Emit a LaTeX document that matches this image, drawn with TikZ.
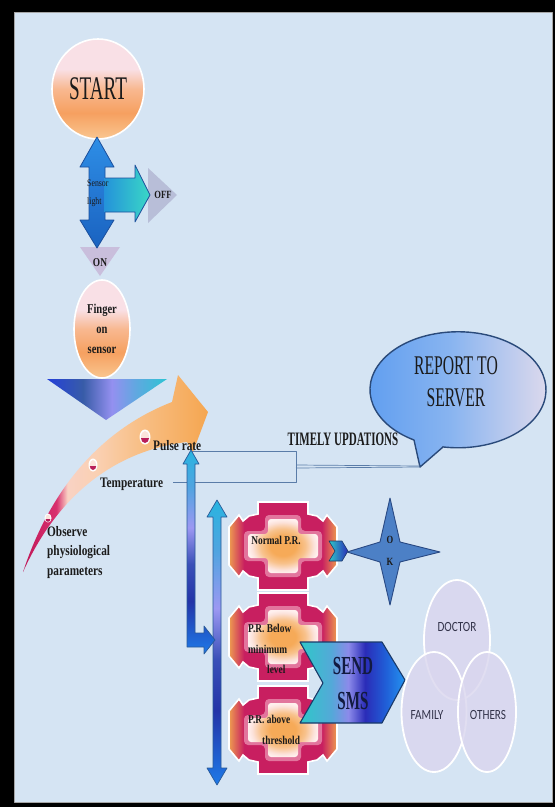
\documentclass[tikz,border=0pt]{standalone}
\usepackage{fontspec}
\setmainfont{Liberation Serif}
\newfontfamily\narrowserif[FakeStretch=0.58]{Liberation Serif}
\newfontfamily\labelserif[FakeStretch=0.78]{Liberation Serif}
\newfontfamily\narrowsans[FakeStretch=0.8]{Carlito}
\usetikzlibrary{shapes.geometric,calc}

% palette
\definecolor{paper}{RGB}{213,228,243}
\definecolor{ink}{HTML}{1B1B1B}
\definecolor{navyink}{HTML}{121A40}
\definecolor{wirec}{HTML}{5A7CA8}
\definecolor{stTop}{HTML}{F9E0E6}
\definecolor{stMid}{HTML}{F8B890}
\definecolor{stOr}{HTML}{F6A060}
\definecolor{stBot}{HTML}{F9C690}
\definecolor{sbTop}{HTML}{2E8EE6}
\definecolor{sbBot}{HTML}{1A62C0}
\definecolor{sedge}{HTML}{1C4F9C}
\definecolor{tlA}{HTML}{2492DA}
\definecolor{tlB}{HTML}{3AD8C6}
\definecolor{offgrey}{HTML}{B8BED8}
\definecolor{onlav}{HTML}{C9BEDC}
\definecolor{ftA}{HTML}{2440D8}
\definecolor{ftB}{HTML}{385CA8}
\definecolor{ftC}{HTML}{9490F0}
\definecolor{ftD}{HTML}{60A8E0}
\definecolor{ftE}{HTML}{2CC4D4}
\definecolor{bdA}{HTML}{C01858}
\definecolor{bdB}{HTML}{D8306E}
\definecolor{bdC}{HTML}{F9D2C4}
\definecolor{bdD}{HTML}{FAD0B2}
\definecolor{bdE}{HTML}{F8C088}
\definecolor{bdF}{HTML}{F5A650}
\definecolor{markmag}{HTML}{B81E5A}
\definecolor{markpale}{HTML}{FBE4DC}
\definecolor{bbA}{HTML}{1E7AE8}
\definecolor{bbB}{HTML}{2434A8}
\definecolor{bbC}{HTML}{3A50B8}
\definecolor{bbD}{HTML}{9C98F2}
\definecolor{bbE}{HTML}{50A4E0}
\definecolor{bbF}{HTML}{28B4E0}
\definecolor{baredge}{HTML}{2A5A98}
\definecolor{clA}{HTML}{5C9CF0}
\definecolor{clB}{HTML}{88B4F0}
\definecolor{clC}{HTML}{E6DDEC}
\definecolor{cledge}{HTML}{2A4A7A}
\definecolor{gOr}{HTML}{EE9C50}
\definecolor{gMag}{HTML}{C81F60}
\definecolor{gCore}{HTML}{F6AA58}
\definecolor{gPeach}{HTML}{F8C28C}
\definecolor{gPale}{HTML}{FCE2DA}
\definecolor{gWhite}{HTML}{FFF0EE}
\definecolor{gPink}{HTML}{EE9AB8}
\definecolor{smA}{HTML}{2EC8C8}
\definecolor{smB}{HTML}{54A8D8}
\definecolor{smC}{HTML}{8C8AEA}
\definecolor{smD}{HTML}{2A2CB8}
\definecolor{smE}{HTML}{2060D8}
\definecolor{smF}{HTML}{2494F0}
\definecolor{smedge}{HTML}{1A3A6A}
\definecolor{starfill}{HTML}{4C80C6}
\definecolor{staredge}{HTML}{2A4A84}
\definecolor{venn}{HTML}{DAD6EE}
\definecolor{venntext}{HTML}{33334A}

% gradients
\pgfdeclareverticalshading{startfill}{100bp}{color(0bp)=(stBot); color(25bp)=(stBot); color(38bp)=(stOr); color(50bp)=(stMid); color(60bp)=(stTop); color(100bp)=(stTop)}
\pgfdeclareverticalshading{sensorblue}{100bp}{color(0bp)=(sbBot); color(25bp)=(sbBot); color(75bp)=(sbTop); color(100bp)=(sbTop)}
\pgfdeclarehorizontalshading{offteal}{100bp}{color(0bp)=(tlA); color(25bp)=(tlA); color(75bp)=(tlB); color(100bp)=(tlB)}
\pgfdeclarehorizontalshading{fingertri}{100bp}{color(0bp)=(ftA); color(25bp)=(ftA); color(40bp)=(ftB); color(52bp)=(ftC); color(62bp)=(ftD); color(75bp)=(ftE); color(100bp)=(ftE)}
\pgfdeclarehorizontalshading{bandfill}{100bp}{color(0bp)=(bdA); color(25bp)=(bdA); color(34bp)=(bdB); color(37bp)=(bdC); color(45bp)=(bdD); color(56bp)=(bdE); color(75bp)=(bdF); color(100bp)=(bdF)}
\pgfdeclareverticalshading{bluebar}{100bp}{color(0bp)=(bbA); color(25bp)=(bbA); color(38bp)=(bbB); color(47bp)=(bbC); color(56bp)=(bbD); color(66bp)=(bbE); color(75bp)=(bbF); color(100bp)=(bbF)}
\pgfdeclarehorizontalshading{callshade}{100bp}{color(0bp)=(clA); color(25bp)=(clA); color(48bp)=(clB); color(75bp)=(clC); color(100bp)=(clC)}
\pgfdeclarehorizontalshading{gearring}{100bp}{color(0bp)=(gOr); color(25bp)=(gOr); color(32bp)=(gMag); color(68bp)=(gMag); color(75bp)=(gOr); color(100bp)=(gOr)}
\pgfdeclareradialshading{gearcore}{\pgfpointorigin}{color(0bp)=(gCore); color(9bp)=(gCore); color(16bp)=(gPeach); color(22bp)=(gPale); color(25bp)=(gWhite); color(50bp)=(gWhite)}
\pgfdeclarehorizontalshading{smsshade}{100bp}{color(0bp)=(smA); color(25bp)=(smA); color(40bp)=(smB); color(48bp)=(smC); color(56bp)=(smD); color(66bp)=(smE); color(75bp)=(smF); color(100bp)=(smF)}
\pgfdeclarehorizontalshading{chevshade}{100bp}{color(0bp)=(smA); color(25bp)=(smA); color(75bp)=(smD); color(100bp)=(smD)}

\tikzset{
  lbl/.style={inner sep=0pt, text=ink},
  boldlabel/.style={lbl, font=\labelserif\bfseries\fontsize{#1}{20}\selectfont},
  gearlabel/.style={lbl, font=\labelserif\bfseries\fontsize{12}{20.5}\selectfont},
  vennlabel/.style={inner sep=0pt, text=venntext, font=\narrowsans\fontsize{14}{16}\selectfont},
  wire/.style={draw=wirec, line width=0.7},
  barrow/.style={shade, shading=bluebar, draw=baredge, line width=0.7},
  oval/.style={ellipse, inner sep=0pt, shade, shading=startfill, draw=white, line width=1.6},
  vennoval/.style={ellipse, inner sep=0pt, fill=venn, fill opacity=0.8, draw=white, line width=1.8}
}

% one gear badge centred at the given point
\newcommand\gearbadge[2]{%
  \begin{scope}[shift={(#1,#2)}]
    \path[shade, shading=gearring]
      (-25,-44) -- (25,-44) -- (25,-32) -- (34,-30) -- (40,-25) -- (44,-31) -- (54,-19) -- (54,19) -- (44,31) -- (40,25) -- (34,30) -- (25,32)
      -- (25,44) -- (-25,44) -- (-25,32) -- (-34,30) -- (-40,25) -- (-44,31) -- (-54,19) -- (-54,-19) -- (-44,-31) -- (-40,-25) -- (-34,-30) -- (-25,-32) -- cycle;
    \draw[white, line width=1.6, line join=miter]
      (-25,-44) -- (25,-44) -- (25,-32) -- (34,-30) -- (40,-25) -- (44,-31) -- (54,-19) -- (54,19) -- (44,31) -- (40,25) -- (34,30) -- (25,32)
      -- (25,44) -- (-25,44) -- (-25,32) -- (-34,30) -- (-40,25) -- (-44,31) -- (-54,19) -- (-54,-19) -- (-44,-31) -- (-40,-25) -- (-34,-30) -- (-25,-32) -- cycle;
    \fill[gPink, opacity=0.7, rounded corners=4]
      (-18,-31) -- (18,-31) -- (18,-15) -- (39,-15) -- (39,15) -- (18,15) -- (18,31) -- (-18,31)
      -- (-18,15) -- (-39,15) -- (-39,-15) -- (-18,-15) -- cycle;
    \path[shade, shading=gearcore, rounded corners=3]
      (-15,-27) -- (15,-27) -- (15,-12) -- (35,-12) -- (35,12) -- (15,12) -- (15,27) -- (-15,27)
      -- (-15,12) -- (-35,12) -- (-35,-12) -- (-15,-12) -- cycle;
  \end{scope}}

\begin{document}
\begin{tikzpicture}[x=1pt, y=-1pt, line join=round]
\useasboundingbox (0,0) rectangle (555,807);

% frame and paper
\fill[black] (0,0) rectangle (555,807);
\fill[paper] (14,12) rectangle (552,802);
\draw[gray!70, line width=0.6] (14,12) rectangle (552,802);

% ---- start and sensor light switch ----
\node[oval, minimum width=92, minimum height=100,
      font=\narrowserif\fontsize{33}{36}\selectfont, text=ink] (start) at (98,89) {START};

\fill[offgrey] (148,168) -- (177,195) -- (148,223) -- cycle;
\fill[onlav] (80,247) -- (120,247) -- (100,276) -- cycle;

\path[shade, shading=sensorblue, draw=sedge, line width=0.8]
  (97,137) -- (114,167) -- (105,167) -- (105,220) -- (114,220) -- (97,248)
  -- (80,220) -- (89,220) -- (89,167) -- (80,167) -- cycle;
\path[shade, shading=offteal]
  (104,178) -- (135,178) -- (135,165) -- (150,195) -- (135,222) -- (135,212) -- (104,212) -- cycle;
\draw[sedge, line width=0.8]
  (105,178) -- (135,178) -- (135,165) -- (150,195) -- (135,222) -- (135,212) -- (105,212);

\node[lbl, font=\labelserif\fontsize{10}{18}\selectfont, align=left, anchor=west] (sensor) at (87,193) {Sensor\\light};
\node[boldlabel=11] (off) at (163,195) {OFF};
\node[boldlabel=12] (on) at (100,263) {ON};

% ---- finger on sensor ----
\node[oval, minimum width=56, minimum height=98, align=center,
      font=\labelserif\bfseries\fontsize{13.5}{20}\selectfont, text=ink] (finger) at (102,329) {Finger\\on\\sensor};
\path[shade, shading=fingertri] (47,379) -- (167,379) -- (106,420) -- cycle;

% ---- curved arrow of measured parameters ----
\path[shade, shading=bandfill]
  (23,572) .. controls (50,490) and (100,430) .. (172,402) -- (178,375) -- (208,412)
  -- (193,452) -- (187,442) .. controls (120,450) and (60,490) .. (23,572) -- cycle;

% small dial markers on the band
\fill[white] (145,437) ellipse[x radius=5.5, y radius=7.5];
\fill[markpale] (145,437) ellipse[x radius=4, y radius=6];
\fill[markmag] (141,438) arc[start angle=180, end angle=0, x radius=4, y radius=5] -- cycle;
\fill[white] (93,465) ellipse[x radius=4.5, y radius=6.5];
\fill[markpale] (93,465) ellipse[x radius=3.2, y radius=5];
\fill[markmag] (89.8,466) arc[start angle=180, end angle=0, x radius=3.2, y radius=4] -- cycle;
\fill[white] (48,518) ellipse[x radius=3.5, y radius=4.5];
\fill[markpale] (48,518) ellipse[x radius=2.4, y radius=3.4];
\fill[markmag] (45.6,519) arc[start angle=180, end angle=0, x radius=2.4, y radius=2.8] -- cycle;

\node[boldlabel=14.5, anchor=base west] (pulse) at (153,450) {Pulse rate};
\node[boldlabel=14.5, anchor=base west] (temp) at (100,487) {Temperature};
\node[lbl, font=\labelserif\bfseries\fontsize{14.5}{19.5}\selectfont, align=left, anchor=north west] (observe) at (47,526) {Observe\\physiological\\parameters};

% ---- report to server ----
\path[shade, shading=callshade, draw=cledge, line width=1.4]
  (443,447) -- (420,467) -- (414,440)
  arc[start angle=120, end angle=460, x radius=88, y radius=58] -- cycle;
\node[lbl, font=\narrowserif\fontsize{27}{32}\selectfont, align=center] (report) at (456,382) {REPORT TO\\SERVER};
\coordinate (calltip) at (420,466);

% bracket from the readings to the server
\coordinate (pulseend) at (191,451);
\coordinate (tempend) at (173,482);
\coordinate (brk1) at (296,451);
\coordinate (brk2) at (296,482);
\coordinate (brkm) at (296,465);
\draw[wire] (pulseend) -- (brk1) -- (brk2) -- (tempend);
\draw[wire] (brkm) -- (calltip);
\draw[wire] ($(brkm)+(0,3)$) -- ($(calltip)+(0,1)$);
\node[lbl, font=\narrowserif\bfseries\fontsize{19}{20}\selectfont] (timely) at (343,439) {TIMELY UPDATIONS};

% ---- vertical flow arrows ----
\path[barrow] (217,500) -- (227,517) -- (221,517) -- (221,768) -- (227,768) -- (217,785)
  -- (207,768) -- (213,768) -- (213,517) -- (207,517) -- cycle;
\path[barrow] (191,450) -- (199,464) -- (195,464) -- (195,633) -- (204,633) -- (204,626)
  -- (215,640) -- (204,654) -- (204,647) -- (187,647) -- (187,464) -- (183,464) -- cycle;

% ---- pulse rate classes ----
\gearbadge{283}{546}
\gearbadge{283}{637}
\gearbadge{283}{730}
\node[gearlabel] (normal) at (276,540) {Normal P.R.};
\node[gearlabel, align=left, anchor=north west] (below) at (248,624) {P.R. Below\\minimum\\\hspace*{19pt}level};
\node[gearlabel, align=left, anchor=north west] (above) at (248,715) {P.R. above\\\hspace*{14pt}threshold};

% normal rate leads to OK
\path[shade, shading=chevshade, draw=smedge, line width=0.6]
  (329,541) -- (342,541) -- (348,551) -- (342,561) -- (329,561) -- (335,551) -- cycle;
\path[fill=starfill, draw=staredge, line width=0.9]
  (390,498) -- (400,542) -- (440,552) -- (400,562) -- (390,605) -- (380,562) -- (347,552) -- (380,542) -- cycle;
\node[boldlabel=11] (okO) at (390,540) {O};
\node[boldlabel=11] (okK) at (390,562) {K};

% abnormal rates lead to SMS
\path[shade, shading=smsshade, draw=smedge, line width=1.1]
  (300,642) -- (382,642) -- (405,680) -- (382,723) -- (300,723) -- (323,683) -- cycle;
\node[inner sep=0pt, text=navyink, align=center, font=\narrowserif\bfseries\fontsize{26}{35}\selectfont] (sms) at (353,684) {SEND\\SMS};

% ---- recipients ----
\node[vennoval, minimum width=66, minimum height=120] (doctorbox) at (457,640) {};
\node[vennoval, minimum width=65, minimum height=120] (familybox) at (434,712) {};
\node[vennoval, minimum width=58, minimum height=120] (othersbox) at (487,712) {};
\node[vennlabel] (doctor) at (457,627) {DOCTOR};
\node[vennlabel] (family) at (427,715) {FAMILY};
\node[vennlabel] (others) at (488,715) {OTHERS};
\end{tikzpicture}
\end{document}
